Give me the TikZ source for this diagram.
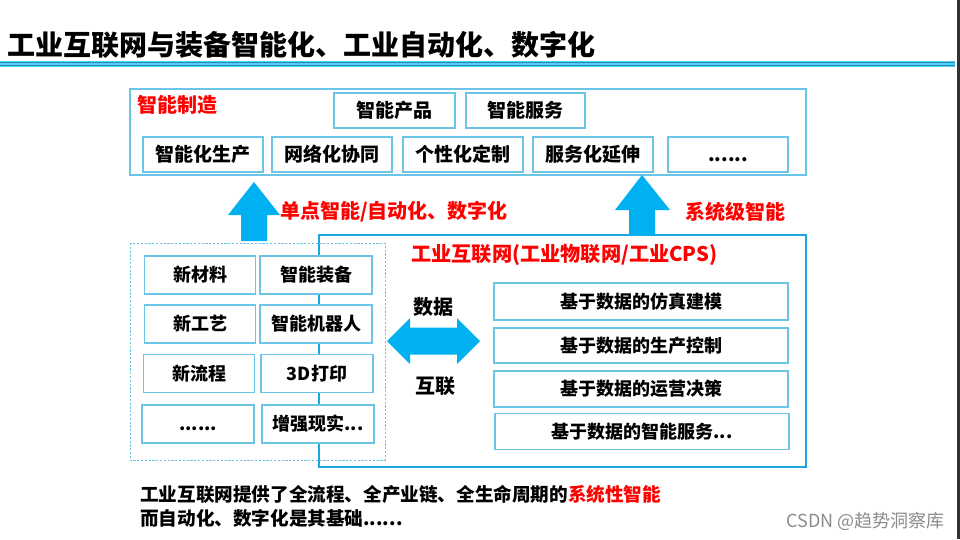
\documentclass[tikz,border=0pt]{standalone}
\usepackage{fontspec}
\setmainfont{Noto Sans CJK SC}
\usetikzlibrary{calc}
\definecolor{boxline}{HTML}{6CC4E6}
\definecolor{iiotline}{HTML}{1CA6E0}
\definecolor{arrowblue}{HTML}{00B0F0}
\definecolor{textred}{HTML}{FF0000}
\definecolor{bandcyan}{HTML}{4FD3F2}
\definecolor{banddark}{HTML}{2B86C4}
\newcommand\fsz[1]{\fontsize{#1}{#1}\selectfont}
\begin{document}
\begin{tikzpicture}[x=1pt,y=-1pt,
  box/.style={draw=boxline, line width=1.1pt, fill=white, inner sep=0pt, text=black, font=\bfseries\fsz{19}},
  sbox/.style={box, font=\bfseries\fsz{18}},
  redlbl/.style={text=textred, font=\bfseries\fsz{20}, inner sep=0pt, anchor=west},
  blklbl/.style={text=black, font=\bfseries\fsz{20}, inner sep=0pt},
  blkarrow/.style={fill=arrowblue, draw=none},
]
\useasboundingbox (0,0) rectangle (960,539);
\fill[white] (0,0) rectangle (960,539);
\fill[black!80] (957,0) rectangle (960,539);

% title and rule
\node[anchor=west, inner sep=0pt, font=\bfseries\fsz{28}] (title) at (7,45) {工业互联网与装备智能化、工业自动化、数字化};
\coordinate (ruleL) at (0,64);
\coordinate (ruleR) at (955,64);
\fill[bandcyan] ($(ruleL)+(0,-3)$) rectangle ($(ruleR)+(0,3)$);
\draw[banddark, line width=1.1pt] ($(ruleL)+(0,-1.5)$) -- ($(ruleR)+(0,-1.5)$);
\draw[banddark, line width=1.1pt] ($(ruleL)+(0,1.8)$) -- ($(ruleR)+(0,1.8)$);

% smart manufacturing
\node[draw=boxline, line width=1.2pt, minimum width=676, minimum height=86, inner sep=0pt] (sm) at (468,132) {};
\node[redlbl] (smlbl) at (137,105) {智能制造};
\node[box, minimum width=121, minimum height=35] (prod) at (394.5,110.5) {智能产品};
\node[box, minimum width=119, minimum height=35] (serv) at (525.5,110.5) {智能服务};
\node[box, minimum width=120, minimum height=35] (r1) at (203,154.5) {智能化生产};
\node[box, minimum width=120, minimum height=35] (r2) at (332,154.5) {网络化协同};
\node[box, minimum width=120, minimum height=35] (r3) at (463,154.5) {个性化定制};
\node[box, minimum width=120, minimum height=35] (r4) at (593,154.5) {服务化延伸};
\node[box, minimum width=120, minimum height=35] (r5) at (728,154.5) {\vphantom{智}......};

% industrial internet frame
\draw[iiotline, line width=2.5pt] (319,235) rectangle (806,467);
\node[redlbl, font=\bfseries\fsz{20.2}] (iiotlbl) at (411,255) {工业互联网(工业物联网/工业CPS)};

% dashed frame
\draw[boxline, line width=0.9pt, dash pattern=on 2.2pt off 1.6pt] (130,243) rectangle (385,460);

% left grid
\node[sbox, minimum width=111, minimum height=38] (g11) at (200,275) {新材料};
\node[sbox, minimum width=112, minimum height=38] (g12) at (316,275) {智能装备};
\node[sbox, minimum width=111, minimum height=38] (g21) at (200,324) {新工艺};
\node[sbox, minimum width=112, minimum height=38] (g22) at (316,324) {智能机器人};
\node[sbox, minimum width=111, minimum height=38] (g31) at (199,373.5) {新流程};
\node[sbox, minimum width=112, minimum height=38] (g32) at (317,373.5) {3D打印};
\node[sbox, minimum width=112, minimum height=38] (g41) at (198,424) {\vphantom{智}......};
\node[sbox, minimum width=112, minimum height=38] (g42) at (318,424) {增强现实...};

% right list
\node[sbox, minimum width=294, minimum height=37] (d1) at (641,301.5) {基于数据的仿真建模};
\node[sbox, minimum width=294, minimum height=35] (d2) at (641,345.5) {基于数据的生产控制};
\node[sbox, minimum width=294, minimum height=36] (d3) at (641,389) {基于数据的运营决策};
\node[sbox, minimum width=294, minimum height=36] (d4) at (642,431.5) {基于数据的智能服务...};

% up arrows
\coordinate (la) at (254,241);
\fill[blkarrow] (la) ++(-13,0) -- ++(0,-26) -- ++(-13,0) -- (254,182) -- (280,215) -- ++(-13,0) -- ++(0,26) -- cycle;
\coordinate (ra) at (642,235);
\fill[blkarrow] (ra) ++(-13,0) -- ++(0,-25) -- ++(-14,0) -- (642,175) -- (670,210) -- ++(-15,0) -- ++(0,25) -- cycle;
\node[redlbl] (lal) at (280,212) {单点智能/自动化、数字化};
\node[redlbl] (ral) at (685,212) {系统级智能};

% double arrow
\coordinate (dl) at (387,341);
\coordinate (dr) at (480,341);
\fill[blkarrow] (dl) -- (410,318) -- (410,327.5) -- (457,327.5) -- (457,318) -- (dr) -- (457,364) -- (457,354.5) -- (410,354.5) -- (410,364) -- cycle;
\node[blklbl] (shuju) at (433,307) {数据};
\node[blklbl] (hulian) at (435,386) {互联};

% bottom text
\node[anchor=west, inner sep=0pt, font=\bfseries\fsz{18.6}] (b1) at (140,494) {工业互联网提供了全流程、全产业链、全生命周期的\textcolor{textred}{系统性智能}};
\node[anchor=west, inner sep=0pt, font=\bfseries\fsz{18.6}] (b2) at (140,518) {而自动化、数字化是其基础......};
\node[anchor=east, inner sep=0pt, text=black!45, font=\fsz{18}] (wm) at (945,521) {CSDN @趋势洞察库};
\end{tikzpicture}
\end{document}
